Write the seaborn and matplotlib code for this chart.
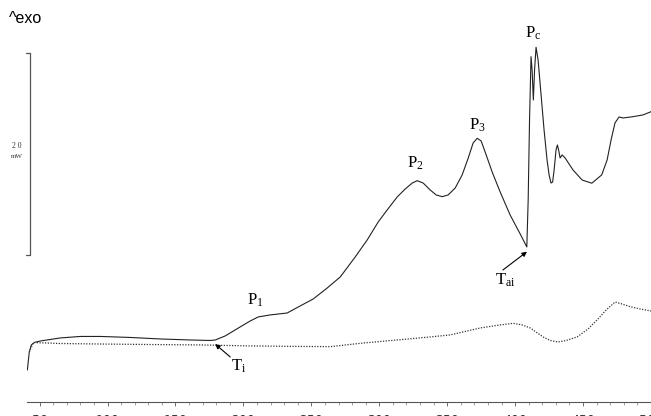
import matplotlib
matplotlib.use('Agg')
import matplotlib.pyplot as plt
import seaborn as sns
import pandas as pd
from matplotlib.ticker import MultipleLocator

# DSC trace, heat flow in mW (arbitrary zero), temperature in degC
temp_heat = [41.0, 42.4, 43.9, 46.1, 50.5, 65.2, 79.9, 94.7, 116.7, 138.8, 160.9, 175.6, 179.3,
             186.6, 197.6, 205.0, 210.9, 219.7, 232.2, 241.8, 251.4, 261.7, 271.3, 282.3, 291.1,
             299.2, 305.8, 313.2, 319.1, 324.3, 327.9, 332.3, 337.5, 341.9, 346.3, 350.7, 355.9,
             361.0, 365.5, 369.1, 372.1, 375.0, 378.7, 383.1, 389.0, 396.3, 403.7, 408.6, 409.6,
             410.6, 411.7, 412.5, 413.4, 414.3, 415.4, 416.9, 419.1, 421.3, 423.5, 425.0, 426.4,
             427.6, 428.7, 430.1, 431.1, 432.0, 433.1, 434.6, 436.8, 442.6, 449.3, 456.4, 463.7,
             467.7, 470.6, 473.5, 476.5, 479.4, 486.8, 494.1, 500.0]
heat_flow = [0.0, 1.78, 2.48, 2.72, 2.87, 3.17, 3.32, 3.32, 3.22, 3.07, 2.97, 2.92, 2.97,
             3.37, 4.26, 4.85, 5.25, 5.45, 5.64, 6.34, 7.03, 8.12, 9.21, 11.19, 12.87,
             14.65, 15.84, 17.13, 17.92, 18.51, 18.74, 18.51, 17.82, 17.33, 17.16, 17.33, 18.02,
             19.31, 20.99, 22.48, 22.94, 22.67, 21.29, 19.60, 17.62, 15.35, 13.47, 12.18, 16.83,
             24.75, 31.02, 29.70, 26.73, 29.70, 31.95, 30.69, 27.23, 23.76, 20.79, 19.31, 18.51,
             18.61, 19.80, 21.78, 22.28, 21.78, 20.99, 21.29, 20.99, 19.80, 18.81, 18.49, 19.31,
             20.79, 22.77, 24.46, 25.05, 24.95, 25.08, 25.25, 25.57]

# reference run (dotted)
temp_ref = [42.4, 45.4, 65.2, 94.7, 131.5, 168.3, 205.0, 241.8, 263.9, 288.2, 313.2, 337.5,
            352.2, 374.3, 389.0, 398.6, 405.2, 411.1, 420.6, 425.8, 431.7, 437.5, 445.6, 453.7,
            460.3, 467.0, 473.6, 478.8, 484.6, 492.0, 500.0]
heat_ref = [1.78, 2.72, 2.62, 2.57, 2.52, 2.48, 2.38, 2.33, 2.31, 2.67, 2.97, 3.27,
            3.47, 4.16, 4.46, 4.62, 4.46, 4.16, 3.27, 2.92, 2.77, 2.92, 3.27, 4.06,
            4.95, 5.94, 6.73, 6.53, 6.27, 6.04, 5.84]

x_ticks = [50, 100, 150, 200, 250, 300, 350, 400, 450, 500]

df_heat = pd.DataFrame({'T': temp_heat, 'Q': heat_flow})
df_ref = pd.DataFrame({'T': temp_ref, 'Q': heat_ref})

sns.set_style('white')
plt.rcParams['mathtext.fontset'] = 'custom'
plt.rcParams['mathtext.rm'] = 'Liberation Serif'
plt.rcParams['mathtext.it'] = 'Liberation Serif:italic'

fig = plt.figure(figsize=(6.51, 4.16), dpi=100)
ax = fig.add_axes([0.041, 0.0344, 0.959, 0.9656])

sns.lineplot(data=df_heat, x='T', y='Q', ax=ax, color='#222222', lw=0.8, sort=False)
sns.lineplot(data=df_ref, x='T', y='Q', ax=ax, color='#333333', lw=0.9, ls=(0, (1, 1.2)), sort=False)

ax.set_xlim(40.5, 500)
ax.set_ylim(-3.14, 36.63)
ax.set_xlabel('')
ax.set_ylabel('')
ax.set_yticks([])
ax.set_xticks(x_ticks)
ax.xaxis.set_minor_locator(MultipleLocator(10))
ax.tick_params(axis='x', which='major', direction='out', length=3, width=0.6,
               color='#555555', pad=6, labelsize=9, labelcolor='#333333')
ax.tick_params(axis='x', which='minor', direction='out', length=2.2, width=0.5, color='#777777')
ax.tick_params(axis='x', bottom=True, which='both')
sns.despine(ax=ax, left=True, top=True, right=True)
ax.spines['bottom'].set_color('#555555')
ax.spines['bottom'].set_linewidth(0.8)

# 20 mW scale bar
ax.plot([42.6, 42.6], [11.39, 31.39], color='#555555', lw=0.9, clip_on=False)
ax.plot([39.7, 42.6], [31.39, 31.39], color='#555555', lw=0.9, clip_on=False)
ax.plot([39.7, 42.6], [11.39, 11.39], color='#555555', lw=0.9, clip_on=False)
fig.text(16.7 / 651, 1 - 146 / 416, '2 0', fontsize=5.5, ha='center', va='center',
         family='Liberation Serif', color='#333333')
fig.text(16.7 / 651, 1 - 157 / 416, 'mW', fontsize=5, ha='center', va='center',
         family='Liberation Serif', color='#333333')

fig.text(9 / 651, 1 - 23 / 416, '^exo', fontsize=11.5, ha='left', va='baseline',
         family='Liberation Sans', color='black')

lab = dict(fontsize=12, ha='center', va='center', color='black')
ax.text(208.8, 6.93, r'$\mathrm{P_1}$', **lab)
ax.text(326.4, 20.5, r'$\mathrm{P_2}$', **lab)
ax.text(372.1, 24.26, r'$\mathrm{P_3}$', **lab)
ax.text(413.2, 33.37, r'$\mathrm{P_c}$', **lab)

arrow = dict(arrowstyle='-|>', lw=0.8, color='black', mutation_scale=7, shrinkA=0, shrinkB=0)
ax.annotate('', xy=(179.2, 2.57), xytext=(190.3, 1.29), arrowprops=arrow)
ax.text(196.3, 0.4, r'$\mathrm{T_i}$', **lab)
ax.annotate('', xy=(408.7, 11.71), xytext=(391.0, 9.9), arrowprops=arrow)
ax.text(392.5, 8.9, r'$\mathrm{T_{ai}}$', **lab)

fig.savefig('out.png', dpi=100)
